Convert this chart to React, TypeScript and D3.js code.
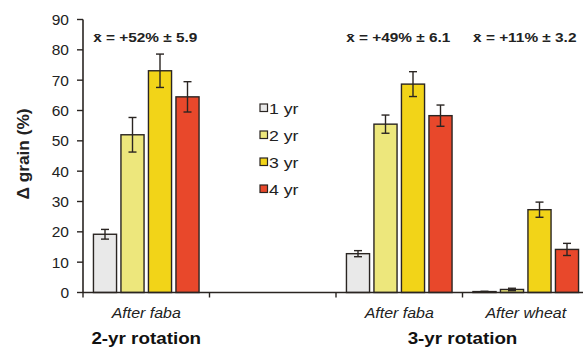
import React from "react";
import * as d3 from "d3";

// Grain response by years since legume, per rotation context
const groups = ["faba2", "gap", "faba3", "wheat3"];
const groupLabels = ["After faba", "", "After faba", "After wheat"];
const series = ["1 yr", "2 yr", "3 yr", "4 yr"];
const colors = ["#e9e9e9", "#ede77c", "#f2d418", "#e8482b"];

const meanGrain: (number[] | null)[] = [
  [19.2, 52.0, 73.1, 64.5],
  null,
  [12.8, 55.5, 68.7, 58.3],
  [0.3, 1.0, 27.3, 14.2],
];
const errGrain: (number[] | null)[] = [
  [1.6, 5.7, 5.5, 5.0],
  null,
  [1.0, 3.0, 4.1, 3.5],
  [0.1, 0.4, 2.5, 2.0],
];

const summaries = ["x̄ = +52% ± 5.9", "", "x̄ = +49% ± 6.1", "x̄ = +11% ± 3.2"];
const rotations = [
  { label: "2-yr rotation", from: 0, to: 0 },
  { label: "3-yr rotation", from: 2, to: 3 },
];
const yTicks = [0, 10, 20, 30, 40, 50, 60, 70, 80, 90];

const W = 583;
const H = 348;
const left = 83;
const right = 589;
const top = 19.5;
const bottom = 292.5;
const FONT = "'Liberation Sans', Arial, sans-serif";
const INK = "#2a2522";
const WIDE = 1.14; // horizontal stretch of the label face

type LabelProps = {
  x: number;
  y: number;
  size: number;
  anchor?: "start" | "middle" | "end";
  weight?: string;
  italic?: boolean;
  fill?: string;
  sx?: number;
  children: React.ReactNode;
};

function Label({ x, y, size, anchor = "middle", weight, italic, fill = "#222", sx = WIDE, children }: LabelProps) {
  return (
    <g transform={`translate(${x},${y}) scale(${sx},1)`}>
      <text
        textAnchor={anchor}
        fontSize={size}
        fontWeight={weight}
        fontStyle={italic ? "italic" : undefined}
        fill={fill}
      >
        {children}
      </text>
    </g>
  );
}

export default function App() {
  const x = d3.scaleBand<string>().domain(groups).range([left, right]);
  const xi = d3
    .scaleBand<string>()
    .domain(series)
    .range([0, x.bandwidth()])
    .paddingInner(0.16)
    .paddingOuter(0.38);
  const y = d3.scaleLinear().domain([0, 90]).range([bottom, top]);

  const tickXs = [left, ...groups.slice(1).map((g) => x(g)!)];

  return (
    <svg
      width={W}
      height={H}
      style={{ position: "absolute", left: 0, top: 0, background: "#fff" }}
      fontFamily={FONT}
    >
      {/* bars with error bars */}
      {groups.map((g, gi) => {
        const vals = meanGrain[gi];
        const errs = errGrain[gi];
        if (!vals || !errs) return null;
        return (
          <g key={g} transform={`translate(${x(g)},0)`}>
            {series.map((s, si) => {
              const bx = xi(s)!;
              const bw = xi.bandwidth();
              const v = vals[si];
              const e = errs[si];
              const cx = bx + bw / 2;
              return (
                <g key={s}>
                  <rect
                    x={bx}
                    y={y(v)}
                    width={bw}
                    height={y(0) - y(v)}
                    fill={colors[si]}
                    stroke={INK}
                    strokeWidth={1.4}
                  />
                  <line x1={cx} x2={cx} y1={y(v + e)} y2={y(v - e)} stroke={INK} strokeWidth={1.4} />
                  <line x1={cx - 4} x2={cx + 4} y1={y(v + e)} y2={y(v + e)} stroke={INK} strokeWidth={1.4} />
                  <line x1={cx - 4} x2={cx + 4} y1={y(v - e)} y2={y(v - e)} stroke={INK} strokeWidth={1.4} />
                </g>
              );
            })}
          </g>
        );
      })}

      {/* y axis */}
      <line x1={left} x2={left} y1={top} y2={bottom} stroke={INK} strokeWidth={1.6} />
      {yTicks.map((t) => (
        <g key={t}>
          <line x1={left - 6} x2={left} y1={y(t)} y2={y(t)} stroke={INK} strokeWidth={1.4} />
          <text
            x={left - 14}
            y={y(t)}
            dy="0.36em"
            textAnchor="end"
            fontSize={15.5}
            fill="#222"
          >
            {t}
          </text>
        </g>
      ))}
      <g transform={`translate(29,${154}) rotate(-90)`}>
        <Label x={0} y={0} size={16} weight="bold" sx={1.08}>
          Δ grain (%)
        </Label>
      </g>

      {/* x axis */}
      <line x1={left} x2={right} y1={bottom} y2={bottom} stroke={INK} strokeWidth={1.6} />
      {tickXs.map((tx, i) => (
        <line key={i} x1={tx} x2={tx} y1={bottom} y2={bottom + 5} stroke={INK} strokeWidth={1.4} />
      ))}
      {groups.map((g, gi) =>
        groupLabels[gi] ? (
          <Label key={g} x={x(g)! + x.bandwidth() / 2} y={318} size={14} italic>
            {groupLabels[gi]}
          </Label>
        ) : null
      )}
      {rotations.map((r) => {
        const cx = (x(groups[r.from])! + x(groups[r.to])! + x.bandwidth()) / 2;
        return (
          <Label key={r.label} x={cx} y={344} size={16.5} weight="bold" fill="#111">
            {r.label}
          </Label>
        );
      })}

      {/* group means */}
      {groups.map((g, gi) =>
        summaries[gi] ? (
          <Label key={g} x={x(g)! + x.bandwidth() / 2 - 1} y={42} size={13.5} weight="bold">
            {summaries[gi]}
          </Label>
        ) : null
      )}

      {/* legend */}
      {series.map((s, si) => (
        <g key={s} transform={`translate(260,${108 + si * 27})`}>
          <rect x={0} y={-4} width={7.5} height={7.5} fill={colors[si]} stroke={INK} strokeWidth={1.2} />
          <Label x={9} y={5.5} size={15} anchor="start" sx={1.18}>
            {s}
          </Label>
        </g>
      ))}
    </svg>
  );
}
